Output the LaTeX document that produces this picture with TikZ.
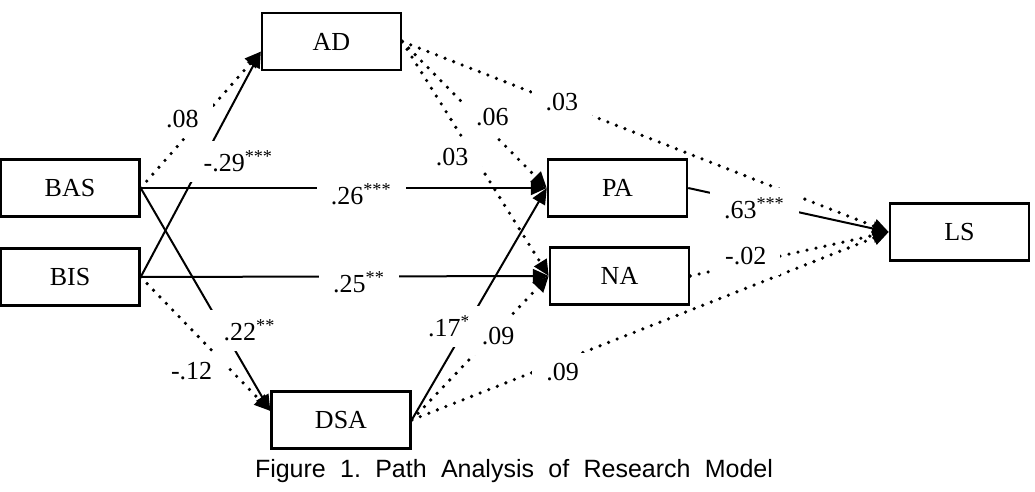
\documentclass[tikz,border=0pt]{standalone}
\usepackage{fontspec}
\setmainfont{Liberation Serif}
\newfontfamily\figcapfont{Liberation Sans}
\usetikzlibrary{arrows.meta}
\tikzset{
  path model/.style={
    x=0.5pt, y=-0.5pt, line width=1pt,
    >={Triangle[length=8pt,width=7pt]},
    every node/.style={font=\fontsize{13}{15.6}\selectfont, text=black}
  },
  path box/.style={draw, line width=1.2pt,
    minimum width=69.5pt, minimum height=28.5pt, inner sep=0pt},
  path sig/.style={->, draw=black, line width=1pt},
  path ns/.style={->, draw=black, line width=1.8pt, line cap=round,
    dash pattern=on 0pt off 4.6pt},
  path coef/.style={fill=white, inner xsep=7pt, inner ysep=5pt}
}

\begin{document}
\begin{tikzpicture}[path model]
  \useasboundingbox (0,0) rectangle (1035,492);
  % variables
  \node[path box] (AD)  at (331.5,41.5) {AD};
  \node[path box] (BAS) at (70,188) {BAS};
  \node[path box] (BIS) at (70,277) {BIS};
  \node[path box] (DSA) at (341,420) {DSA};
  \node[path box] (PA)  at (617.5,188) {PA};
  \node[path box] (NA)  at (619.5,276) {NA};
  \node[path box] (LS)  at (959.5,232) {LS};
  % BAS/BIS -> AD, DSA
  \draw[path ns] (BAS.east) -- node[path coef,pos=.48,xshift=-8pt,yshift=1.5pt] (bas-ad) {.08} ([yshift=-5pt]AD.west);
  \draw[path sig] (BIS.east) -- node[path coef,pos=.505,xshift=18.5pt,yshift=1pt] (bis-ad) {-.29\textsuperscript{***}} ([yshift=-5pt]AD.west);
  \draw[path sig] (BAS.east) -- node[path coef,pos=.647,xshift=12.5pt,yshift=1pt] (bas-dsa) {.22\textsuperscript{**}} ([yshift=4.5pt]DSA.west);
  \draw[path ns] (BIS.east) -- node[path coef,pos=.555,xshift=-10.5pt,yshift=-10pt] (bis-dsa) {-.12} ([yshift=4.5pt]DSA.west);
  % direct paths
  \draw[path sig] (BAS.east) -- node[path coef,pos=.543,yshift=-3pt] (bas-pa) {.26\textsuperscript{***}} (PA.west);
  \draw[path sig] (BIS.east) -- node[path coef,pos=.535,yshift=-3pt] (bis-na) {.25\textsuperscript{**}} (NA.west);
  % mediators -> affect, LS
  \draw[path sig] (DSA.east) -- node[path coef,pos=.405,xshift=-8.5pt] (dsa-pa) {.17\textsuperscript{*}} (PA.west);
  \draw[path ns] (DSA.east) -- node[path coef,pos=.63,yshift=-3.5pt] (dsa-na) {.09} (NA.west);
  \draw[path ns] (DSA.east) -- node[path coef,pos=.31,xshift=1.5pt,yshift=-5pt] (dsa-ls) {.09} (LS.west);
  \draw[path ns] (AD.east) -- node[path coef,pos=.54,xshift=6pt,yshift=2pt] (ad-pa) {.06} (PA.west);
  \draw[path ns] (AD.east) -- node[path coef,pos=.47,xshift=-9.5pt,yshift=-2.5pt] (ad-na) {.03} (NA.west);
  \draw[path ns] (AD.east) -- node[path coef,pos=.32,xshift=2pt] (ad-ls) {.03} (LS.west);
  \draw[path ns] (NA.east) -- node[path coef,pos=.28,yshift=4pt] (na-ls) {-.02} (LS.west);
  \draw[path sig] (PA.east) -- node[path coef,pos=.33,yshift=-3pt] (pa-ls) {.63\textsuperscript{***}} (LS.west);
  \node[font=\figcapfont\fontsize{12.5}{15}\selectfont, inner sep=0pt] (caption) at (514,471.5)
    {\frenchspacing\makebox[259pt][s]{Figure 1. Path Analysis of Research Model}};
\end{tikzpicture}
\end{document}
